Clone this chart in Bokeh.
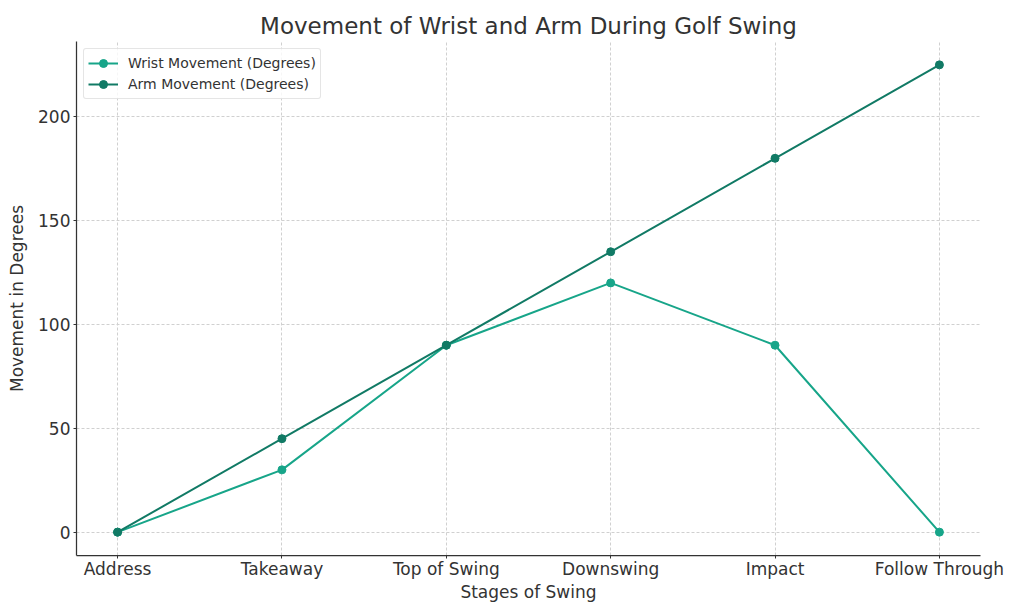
from bokeh.plotting import figure
from bokeh.models import FixedTicker, Range1d, Legend, LegendItem
from bokeh.embed import file_html
from bokeh.resources import INLINE

stages = ["Address", "Takeaway", "Top of Swing", "Downswing", "Impact", "Follow Through"]
wrist = [0, 30, 90, 120, 90, 0]
arm = [0, 45, 90, 135, 180, 225]
y_ticks = [0, 50, 100, 150, 200]

x = list(range(len(stages)))
FONT = "DejaVu Sans"
TXT = "#333333"

p = figure(width=1008, height=604, output_backend="svg", toolbar_location=None,
           title="Movement of Wrist and Arm During Golf Swing",
           x_range=Range1d(-0.25, 5.25), y_range=Range1d(-11.25, 236.25),
           min_border_left=76, min_border_right=28, min_border_bottom=10, min_border_top=5)

p.title.text_font = FONT
p.title.text_font_size = "23px"
p.title.text_font_style = "normal"
p.title.text_color = TXT
p.title.align = "center"
p.title.standoff = 0
p.title.padding = dict(left=0, right=0, top=10, bottom=3)

p.outline_line_color = None

p.xaxis.ticker = FixedTicker(ticks=x)
p.xaxis.major_label_overrides = {i: s for i, s in enumerate(stages)}
p.yaxis.ticker = FixedTicker(ticks=y_ticks)
for ax in (p.xaxis, p.yaxis):
    ax.major_label_text_font = FONT
    ax.major_label_text_font_size = "17px"
    ax.major_label_text_color = TXT
    ax.axis_label_text_font = FONT
    ax.axis_label_text_font_size = "17px"
    ax.axis_label_text_font_style = "normal"
    ax.axis_label_text_color = TXT
    ax.axis_line_color = "#333333"
    ax.axis_line_width = 1.25
    ax.major_tick_line_color = "#333333"
    ax.major_tick_out = 3
    ax.major_tick_in = 0
    ax.minor_tick_line_color = None
p.xaxis.major_label_standoff = 0
p.xaxis.axis_label_standoff = 0
p.yaxis.major_label_standoff = 3
p.yaxis.axis_label_standoff = 8
p.xaxis.axis_label = "Stages of Swing"
p.yaxis.axis_label = "Movement in Degrees"

p.grid.grid_line_color = "#d0d0d0"
p.grid.grid_line_dash = "3 2"
p.grid.grid_line_width = 1

wc = "#17A589"
ac = "#117A65"
lw = p.line(x, wrist, line_color=wc, line_width=2)
ws = p.scatter(x, wrist, size=8, fill_color=wc, line_color=wc)
la = p.line(x, arm, line_color=ac, line_width=2)
as_ = p.scatter(x, arm, size=8, fill_color=ac, line_color=ac)

legend = Legend(items=[LegendItem(label="Wrist Movement (Degrees)", renderers=[lw, ws]),
                       LegendItem(label="Arm Movement (Degrees)", renderers=[la, as_])],
                location="top_left")
legend.label_text_font = FONT
legend.label_text_font_size = "14px"
legend.label_text_color = TXT
legend.border_line_color = "#cccccc"
legend.border_line_width = 1
legend.border_radius = 3
legend.background_fill_alpha = 0.8
legend.margin = 7
legend.padding = 4
legend.spacing = 1
legend.glyph_width = 30
legend.glyph_height = 20
legend.label_height = 20
legend.label_standoff = 10
p.add_layout(legend)

open("out.html", "w").write(file_html(p, INLINE))
